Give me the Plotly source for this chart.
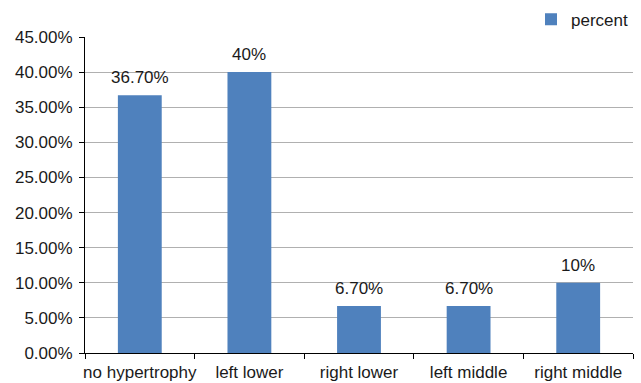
import plotly.graph_objects as go

categories = ["no hypertrophy", "left lower", "right lower", "left middle", "right middle"]
percent = [0.367, 0.40, 0.067, 0.067, 0.10]
value_labels = ["36.70%", "40%", "6.70%", "6.70%", "10%"]
y_ticks = [i * 0.05 for i in range(10)]

BAR_COLOR = "#4f81bd"
TEXT_COLOR = "#1a1a1a"
FONT = "Liberation Sans, Arial, sans-serif"
FS = 17

fig = go.Figure()
fig.add_trace(go.Bar(
    x=categories,
    y=percent,
    name="percent",
    marker=dict(color=BAR_COLOR, line=dict(width=0)),
    showlegend=True,
))

# value labels above each bar
for cat, val, lab in zip(categories, percent, value_labels):
    fig.add_annotation(
        x=cat, y=val, text=lab, showarrow=False,
        yanchor="bottom", yshift=6,
        font=dict(family=FONT, size=FS, color=TEXT_COLOR),
    )

fig.update_layout(
    width=641, height=383,
    margin=dict(l=85, r=8, t=37, b=30, autoexpand=False),
    paper_bgcolor="white", plot_bgcolor="white",
    font=dict(family=FONT, size=FS, color=TEXT_COLOR),
    bargap=0.6,
    legend=dict(
        x=1.0, xanchor="right", y=1.055, yanchor="middle",
        bgcolor="rgba(0,0,0,0)", font=dict(size=FS),
        itemclick=False,
    ),
    xaxis=dict(
        showline=True, linecolor="black", linewidth=1,
        ticks="outside", tickson="boundaries", ticklen=5, tickcolor="black",
        tickangle=0, ticklabelstandoff=4, automargin=False,
        showgrid=False, zeroline=False,
    ),
    yaxis=dict(
        range=[0, 0.45], tickvals=y_ticks, tickformat=".2%",
        showline=True, linecolor="black", linewidth=1,
        ticks="outside", ticklen=5, tickcolor="black",
        ticklabelstandoff=3, automargin=False,
        showgrid=True, gridcolor="#b0b0b0", gridwidth=1,
        zeroline=False,
    ),
)

fig.write_html("out.html")
